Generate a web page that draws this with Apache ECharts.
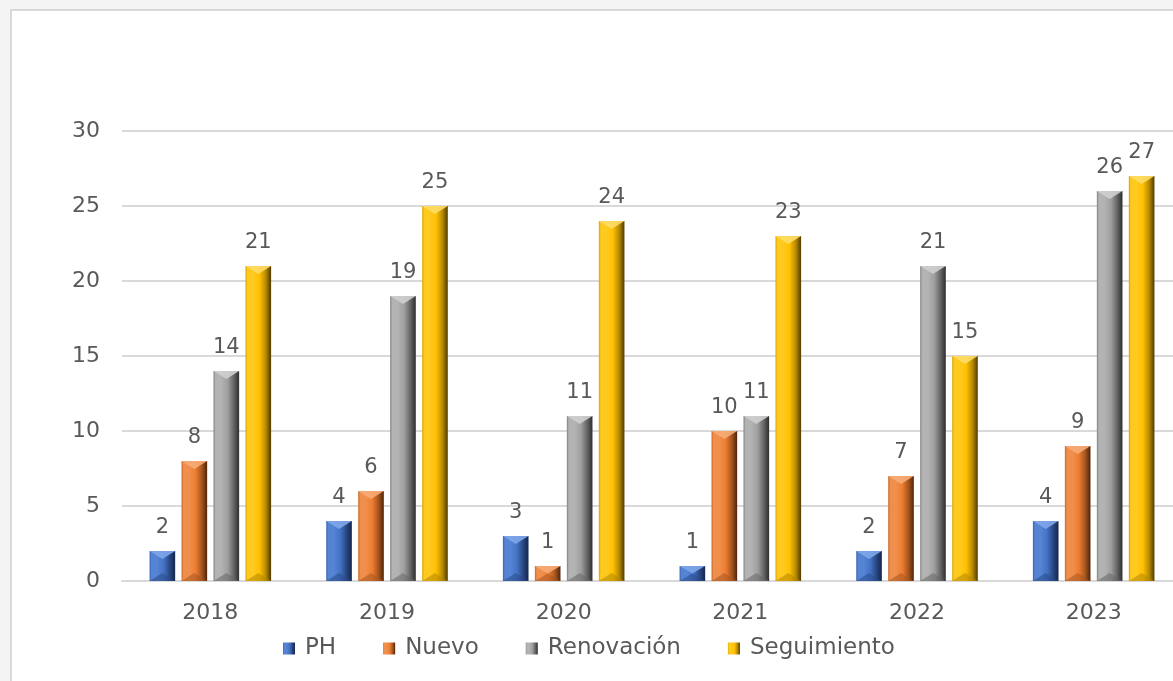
<!DOCTYPE html>
<html><head><meta charset="utf-8">
<script src="https://cdn.jsdelivr.net/npm/echarts@6/dist/echarts.min.js"></script>
<style>
html,body{margin:0;padding:0;background:#f4f4f4;overflow:hidden;width:1173px;height:681px;}
#frame{position:absolute;left:10px;top:9px;width:1200px;height:700px;border:2px solid #d9d9d9;background:#fff;}
#c{position:absolute;left:0;top:0;width:1200px;height:681px;}
</style></head>
<body><div id="frame"></div><div id="c"></div>
<script>
const categories = ['2018','2019','2020','2021','2022','2023'];
const phValues = [2,4,3,1,2,4];
const nuevoValues = [8,6,1,10,7,9];
const renovacionValues = [14,19,11,11,21,26];
const seguimientoValues = [21,25,24,23,15,27];
const yTicks = [0,5,10,15,20,25,30];
const seriesNames = ['PH','Nuevo','Renovación','Seguimiento'];
const seriesValues = [phValues, nuevoValues, renovacionValues, seguimientoValues];

const palette = {
  'PH':          {edge:'#3a64ad', light:'#5584d4', base:'#4472c4', dark:'#27457f', darkest:'#14264a', top:'#7fa6ea', bottom:'#2a4b88'},
  'Nuevo':       {edge:'#c9662a', light:'#f08f4c', base:'#ed7d31', dark:'#a3531d', darkest:'#4e250a', top:'#f7ac78', bottom:'#a85520'},
  'Renovación':  {edge:'#7e7e7e', light:'#b3b3b3', base:'#9f9f9f', dark:'#636363', darkest:'#2e2e2e', top:'#cfcfcf', bottom:'#666666'},
  'Seguimiento': {edge:'#d9a300', light:'#ffca1f', base:'#ffc000', dark:'#b58800', darkest:'#4e3a00', top:'#ffdb66', bottom:'#b38600'}
};
const font = '"DejaVu Sans", Verdana, sans-serif';
const textColor = '#595959';

function bodyGrad(p){
  return new echarts.graphic.LinearGradient(0,0,1,0,[
    {offset:0,color:p.edge},{offset:0.08,color:p.light},{offset:0.3,color:p.light},
    {offset:0.55,color:p.base},{offset:0.8,color:p.dark},{offset:1,color:p.darkest}
  ]);
}

function mkSeries(sIdx){
  const name = seriesNames[sIdx];
  const p = palette[name];
  const vals = seriesValues[sIdx];
  return {
    name, type:'custom',
    itemStyle:{color:p.base},
    data: categories.map((c,i)=>[i, vals[i]]),
    renderItem(params, api){
      const ci = api.value(0), v = api.value(1);
      const band = api.size([1,0])[0];
      const barW = band*0.145, gap = band*0.036;
      const step = barW + gap;
      const center = api.coord([ci, 0]);
      const topPt = api.coord([ci, v]);
      const xc = center[0] + (sIdx - 1.5)*step;
      const x0 = xc - barW/2, x1 = xc + barW/2;
      const yb = center[1], yt = topPt[1];
      const h = yb - yt;
      const d = Math.min(8, h/2);
      return {type:'group', children:[
        {type:'rect', shape:{x:x0, y:yt, width:barW, height:h}, style:{fill:bodyGrad(p)}},
        {type:'polygon', shape:{points:[[x0,yt],[x1,yt],[xc,yt+d]]}, style:{fill:p.top, opacity:0.9}},
        {type:'polygon', shape:{points:[[x0,yb],[x1,yb],[xc,yb-d]]}, style:{fill:p.bottom, opacity:0.55}},
        {type:'text', style:{text:String(v), x:xc, y:yt-13, align:'center', verticalAlign:'bottom',
          fontSize:21, fontFamily:font, fill:textColor}}
      ]};
    }
  };
}

const chart = echarts.init(document.getElementById('c'));
chart.setOption({
  animation:false,
  legend:{
    top:632, left:278, itemWidth:12, itemHeight:12, itemGap:47,
    textStyle:{fontSize:23, color:textColor, fontFamily:font, padding:[0,0,0,5]},
    data:seriesNames.map(n=>({name:n, icon:'rect', itemStyle:{color:bodyGrad(palette[n])}}))
  },
  grid:{left:122, top:131, width:1060, height:450, containLabel:false},
  xAxis:{type:'category', data:categories,
    axisLine:{lineStyle:{color:'#d9d9d9', width:2}}, axisTick:{show:false},
    axisLabel:{fontSize:22, color:textColor, fontFamily:font, margin:21}},
  yAxis:{type:'value', min:yTicks[0], max:yTicks[yTicks.length-1], interval:5,
    axisLine:{show:false}, axisTick:{show:false},
    splitLine:{lineStyle:{color:'#d9d9d9', width:2}},
    axisLabel:{fontSize:22, color:textColor, fontFamily:font, margin:22}},
  series:seriesNames.map((n,i)=>mkSeries(i))
});
</script></body></html>
